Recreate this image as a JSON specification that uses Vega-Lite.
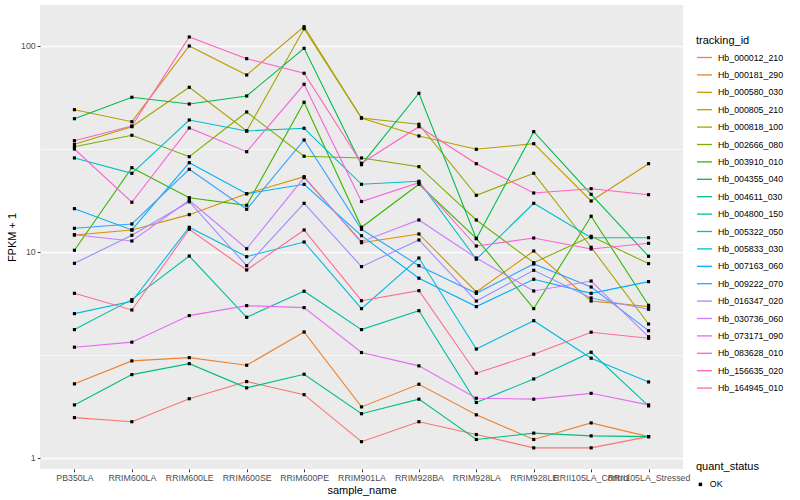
{
"$schema": "https://vega.github.io/schema/vega-lite/v6.json",
"width": 643, "height": 464,
"autosize": {"type": "none"},
"padding": {"left": 40, "top": 5, "right": 117, "bottom": 31},
"background": "white",
"config": {
  "font": "Liberation Sans",
  "view": {"fill": "#EBEBEB", "stroke": null},
  "axis": {"domain": false, "labelFont": "Liberation Sans", "labelFontSize": 8.8, "labelColor": "#4D4D4D", "titleFont": "Liberation Sans", "titleFontSize": 11, "titleFontWeight": "normal", "titleColor": "black", "tickColor": "#333333", "tickSize": 2.75, "tickWidth": 1, "gridColor": "white", "labelPadding": 2},
  "legend": {"titleFont": "Liberation Sans", "labelFont": "Liberation Sans", "titleFontSize": 11, "titleFontWeight": "normal", "titleColor": "black", "labelFontSize": 8.8, "labelColor": "black", "rowPadding": 3.4, "labelOffset": 5, "titlePadding": 3}
},
"datasets": {"d": [
{"tracking_id":"Hb_000012_210","sample_name":"PB350LA","fpkm1":1.57,"quant_status":"OK"},
{"tracking_id":"Hb_000012_210","sample_name":"RRIM600LA","fpkm1":1.50,"quant_status":"OK"},
{"tracking_id":"Hb_000012_210","sample_name":"RRIM600LE","fpkm1":1.94,"quant_status":"OK"},
{"tracking_id":"Hb_000012_210","sample_name":"RRIM600SE","fpkm1":2.35,"quant_status":"OK"},
{"tracking_id":"Hb_000012_210","sample_name":"RRIM600PE","fpkm1":2.03,"quant_status":"OK"},
{"tracking_id":"Hb_000012_210","sample_name":"RRIM901LA","fpkm1":1.20,"quant_status":"OK"},
{"tracking_id":"Hb_000012_210","sample_name":"RRIM928BA","fpkm1":1.50,"quant_status":"OK"},
{"tracking_id":"Hb_000012_210","sample_name":"RRIM928LA","fpkm1":1.30,"quant_status":"OK"},
{"tracking_id":"Hb_000012_210","sample_name":"RRIM928LE","fpkm1":1.12,"quant_status":"OK"},
{"tracking_id":"Hb_000012_210","sample_name":"RRII105LA_Control","fpkm1":1.12,"quant_status":"OK"},
{"tracking_id":"Hb_000012_210","sample_name":"RRII105LA_Stressed","fpkm1":1.27,"quant_status":"OK"},
{"tracking_id":"Hb_000181_290","sample_name":"PB350LA","fpkm1":2.29,"quant_status":"OK"},
{"tracking_id":"Hb_000181_290","sample_name":"RRIM600LA","fpkm1":2.96,"quant_status":"OK"},
{"tracking_id":"Hb_000181_290","sample_name":"RRIM600LE","fpkm1":3.07,"quant_status":"OK"},
{"tracking_id":"Hb_000181_290","sample_name":"RRIM600SE","fpkm1":2.82,"quant_status":"OK"},
{"tracking_id":"Hb_000181_290","sample_name":"RRIM600PE","fpkm1":4.09,"quant_status":"OK"},
{"tracking_id":"Hb_000181_290","sample_name":"RRIM901LA","fpkm1":1.77,"quant_status":"OK"},
{"tracking_id":"Hb_000181_290","sample_name":"RRIM928BA","fpkm1":2.28,"quant_status":"OK"},
{"tracking_id":"Hb_000181_290","sample_name":"RRIM928LA","fpkm1":1.62,"quant_status":"OK"},
{"tracking_id":"Hb_000181_290","sample_name":"RRIM928LE","fpkm1":1.23,"quant_status":"OK"},
{"tracking_id":"Hb_000181_290","sample_name":"RRII105LA_Control","fpkm1":1.48,"quant_status":"OK"},
{"tracking_id":"Hb_000181_290","sample_name":"RRII105LA_Stressed","fpkm1":1.27,"quant_status":"OK"},
{"tracking_id":"Hb_000580_030","sample_name":"PB350LA","fpkm1":12.09,"quant_status":"OK"},
{"tracking_id":"Hb_000580_030","sample_name":"RRIM600LA","fpkm1":12.79,"quant_status":"OK"},
{"tracking_id":"Hb_000580_030","sample_name":"RRIM600LE","fpkm1":15.18,"quant_status":"OK"},
{"tracking_id":"Hb_000580_030","sample_name":"RRIM600SE","fpkm1":19.19,"quant_status":"OK"},
{"tracking_id":"Hb_000580_030","sample_name":"RRIM600PE","fpkm1":23.21,"quant_status":"OK"},
{"tracking_id":"Hb_000580_030","sample_name":"RRIM901LA","fpkm1":11.09,"quant_status":"OK"},
{"tracking_id":"Hb_000580_030","sample_name":"RRIM928BA","fpkm1":12.23,"quant_status":"OK"},
{"tracking_id":"Hb_000580_030","sample_name":"RRIM928LA","fpkm1":6.40,"quant_status":"OK"},
{"tracking_id":"Hb_000580_030","sample_name":"RRIM928LE","fpkm1":10.11,"quant_status":"OK"},
{"tracking_id":"Hb_000580_030","sample_name":"RRII105LA_Control","fpkm1":5.78,"quant_status":"OK"},
{"tracking_id":"Hb_000580_030","sample_name":"RRII105LA_Stressed","fpkm1":5.43,"quant_status":"OK"},
{"tracking_id":"Hb_000805_210","sample_name":"PB350LA","fpkm1":49.07,"quant_status":"OK"},
{"tracking_id":"Hb_000805_210","sample_name":"RRIM600LA","fpkm1":42.91,"quant_status":"OK"},
{"tracking_id":"Hb_000805_210","sample_name":"RRIM600LE","fpkm1":100.0,"quant_status":"OK"},
{"tracking_id":"Hb_000805_210","sample_name":"RRIM600SE","fpkm1":72.3,"quant_status":"OK"},
{"tracking_id":"Hb_000805_210","sample_name":"RRIM600PE","fpkm1":124.1,"quant_status":"OK"},
{"tracking_id":"Hb_000805_210","sample_name":"RRIM901LA","fpkm1":44.72,"quant_status":"OK"},
{"tracking_id":"Hb_000805_210","sample_name":"RRIM928BA","fpkm1":36.57,"quant_status":"OK"},
{"tracking_id":"Hb_000805_210","sample_name":"RRIM928LA","fpkm1":31.51,"quant_status":"OK"},
{"tracking_id":"Hb_000805_210","sample_name":"RRIM928LE","fpkm1":33.55,"quant_status":"OK"},
{"tracking_id":"Hb_000805_210","sample_name":"RRII105LA_Control","fpkm1":17.68,"quant_status":"OK"},
{"tracking_id":"Hb_000805_210","sample_name":"RRII105LA_Stressed","fpkm1":26.83,"quant_status":"OK"},
{"tracking_id":"Hb_000818_100","sample_name":"PB350LA","fpkm1":33.33,"quant_status":"OK"},
{"tracking_id":"Hb_000818_100","sample_name":"RRIM600LA","fpkm1":40.58,"quant_status":"OK"},
{"tracking_id":"Hb_000818_100","sample_name":"RRIM600LE","fpkm1":63.03,"quant_status":"OK"},
{"tracking_id":"Hb_000818_100","sample_name":"RRIM600SE","fpkm1":38.68,"quant_status":"OK"},
{"tracking_id":"Hb_000818_100","sample_name":"RRIM600PE","fpkm1":121.3,"quant_status":"OK"},
{"tracking_id":"Hb_000818_100","sample_name":"RRIM901LA","fpkm1":44.72,"quant_status":"OK"},
{"tracking_id":"Hb_000818_100","sample_name":"RRIM928BA","fpkm1":41.69,"quant_status":"OK"},
{"tracking_id":"Hb_000818_100","sample_name":"RRIM928LA","fpkm1":18.85,"quant_status":"OK"},
{"tracking_id":"Hb_000818_100","sample_name":"RRIM928LE","fpkm1":24.1,"quant_status":"OK"},
{"tracking_id":"Hb_000818_100","sample_name":"RRII105LA_Control","fpkm1":10.54,"quant_status":"OK"},
{"tracking_id":"Hb_000818_100","sample_name":"RRII105LA_Stressed","fpkm1":4.47,"quant_status":"OK"},
{"tracking_id":"Hb_002666_080","sample_name":"PB350LA","fpkm1":32.45,"quant_status":"OK"},
{"tracking_id":"Hb_002666_080","sample_name":"RRIM600LA","fpkm1":36.86,"quant_status":"OK"},
{"tracking_id":"Hb_002666_080","sample_name":"RRIM600LE","fpkm1":29.01,"quant_status":"OK"},
{"tracking_id":"Hb_002666_080","sample_name":"RRIM600SE","fpkm1":47.83,"quant_status":"OK"},
{"tracking_id":"Hb_002666_080","sample_name":"RRIM600PE","fpkm1":29.15,"quant_status":"OK"},
{"tracking_id":"Hb_002666_080","sample_name":"RRIM901LA","fpkm1":28.6,"quant_status":"OK"},
{"tracking_id":"Hb_002666_080","sample_name":"RRIM928BA","fpkm1":25.95,"quant_status":"OK"},
{"tracking_id":"Hb_002666_080","sample_name":"RRIM928LA","fpkm1":14.3,"quant_status":"OK"},
{"tracking_id":"Hb_002666_080","sample_name":"RRIM928LE","fpkm1":8.87,"quant_status":"OK"},
{"tracking_id":"Hb_002666_080","sample_name":"RRII105LA_Control","fpkm1":11.92,"quant_status":"OK"},
{"tracking_id":"Hb_002666_080","sample_name":"RRII105LA_Stressed","fpkm1":8.78,"quant_status":"OK"},
{"tracking_id":"Hb_003910_010","sample_name":"PB350LA","fpkm1":10.19,"quant_status":"OK"},
{"tracking_id":"Hb_003910_010","sample_name":"RRIM600LA","fpkm1":25.66,"quant_status":"OK"},
{"tracking_id":"Hb_003910_010","sample_name":"RRIM600LE","fpkm1":18.35,"quant_status":"OK"},
{"tracking_id":"Hb_003910_010","sample_name":"RRIM600SE","fpkm1":16.85,"quant_status":"OK"},
{"tracking_id":"Hb_003910_010","sample_name":"RRIM600PE","fpkm1":53.3,"quant_status":"OK"},
{"tracking_id":"Hb_003910_010","sample_name":"RRIM901LA","fpkm1":13.18,"quant_status":"OK"},
{"tracking_id":"Hb_003910_010","sample_name":"RRIM928BA","fpkm1":21.31,"quant_status":"OK"},
{"tracking_id":"Hb_003910_010","sample_name":"RRIM928LA","fpkm1":11.65,"quant_status":"OK"},
{"tracking_id":"Hb_003910_010","sample_name":"RRIM928LE","fpkm1":5.31,"quant_status":"OK"},
{"tracking_id":"Hb_003910_010","sample_name":"RRII105LA_Control","fpkm1":14.91,"quant_status":"OK"},
{"tracking_id":"Hb_003910_010","sample_name":"RRII105LA_Stressed","fpkm1":5.51,"quant_status":"OK"},
{"tracking_id":"Hb_004355_040","sample_name":"PB350LA","fpkm1":44.37,"quant_status":"OK"},
{"tracking_id":"Hb_004355_040","sample_name":"RRIM600LA","fpkm1":56.36,"quant_status":"OK"},
{"tracking_id":"Hb_004355_040","sample_name":"RRIM600LE","fpkm1":52.29,"quant_status":"OK"},
{"tracking_id":"Hb_004355_040","sample_name":"RRIM600SE","fpkm1":57.19,"quant_status":"OK"},
{"tracking_id":"Hb_004355_040","sample_name":"RRIM600PE","fpkm1":97.45,"quant_status":"OK"},
{"tracking_id":"Hb_004355_040","sample_name":"RRIM901LA","fpkm1":26.53,"quant_status":"OK"},
{"tracking_id":"Hb_004355_040","sample_name":"RRIM928BA","fpkm1":58.94,"quant_status":"OK"},
{"tracking_id":"Hb_004355_040","sample_name":"RRIM928LA","fpkm1":11.6,"quant_status":"OK"},
{"tracking_id":"Hb_004355_040","sample_name":"RRIM928LE","fpkm1":38.37,"quant_status":"OK"},
{"tracking_id":"Hb_004355_040","sample_name":"RRII105LA_Control","fpkm1":19.06,"quant_status":"OK"},
{"tracking_id":"Hb_004355_040","sample_name":"RRII105LA_Stressed","fpkm1":9.53,"quant_status":"OK"},
{"tracking_id":"Hb_004611_030","sample_name":"PB350LA","fpkm1":1.81,"quant_status":"OK"},
{"tracking_id":"Hb_004611_030","sample_name":"RRIM600LA","fpkm1":2.54,"quant_status":"OK"},
{"tracking_id":"Hb_004611_030","sample_name":"RRIM600LE","fpkm1":2.87,"quant_status":"OK"},
{"tracking_id":"Hb_004611_030","sample_name":"RRIM600SE","fpkm1":2.19,"quant_status":"OK"},
{"tracking_id":"Hb_004611_030","sample_name":"RRIM600PE","fpkm1":2.55,"quant_status":"OK"},
{"tracking_id":"Hb_004611_030","sample_name":"RRIM901LA","fpkm1":1.64,"quant_status":"OK"},
{"tracking_id":"Hb_004611_030","sample_name":"RRIM928BA","fpkm1":1.93,"quant_status":"OK"},
{"tracking_id":"Hb_004611_030","sample_name":"RRIM928LA","fpkm1":1.23,"quant_status":"OK"},
{"tracking_id":"Hb_004611_030","sample_name":"RRIM928LE","fpkm1":1.32,"quant_status":"OK"},
{"tracking_id":"Hb_004611_030","sample_name":"RRII105LA_Control","fpkm1":1.28,"quant_status":"OK"},
{"tracking_id":"Hb_004611_030","sample_name":"RRII105LA_Stressed","fpkm1":1.27,"quant_status":"OK"},
{"tracking_id":"Hb_004800_150","sample_name":"PB350LA","fpkm1":4.20,"quant_status":"OK"},
{"tracking_id":"Hb_004800_150","sample_name":"RRIM600LA","fpkm1":5.87,"quant_status":"OK"},
{"tracking_id":"Hb_004800_150","sample_name":"RRIM600LE","fpkm1":9.56,"quant_status":"OK"},
{"tracking_id":"Hb_004800_150","sample_name":"RRIM600SE","fpkm1":4.82,"quant_status":"OK"},
{"tracking_id":"Hb_004800_150","sample_name":"RRIM600PE","fpkm1":6.45,"quant_status":"OK"},
{"tracking_id":"Hb_004800_150","sample_name":"RRIM901LA","fpkm1":4.20,"quant_status":"OK"},
{"tracking_id":"Hb_004800_150","sample_name":"RRIM928BA","fpkm1":5.19,"quant_status":"OK"},
{"tracking_id":"Hb_004800_150","sample_name":"RRIM928LA","fpkm1":1.86,"quant_status":"OK"},
{"tracking_id":"Hb_004800_150","sample_name":"RRIM928LE","fpkm1":2.42,"quant_status":"OK"},
{"tracking_id":"Hb_004800_150","sample_name":"RRII105LA_Control","fpkm1":3.26,"quant_status":"OK"},
{"tracking_id":"Hb_004800_150","sample_name":"RRII105LA_Stressed","fpkm1":1.79,"quant_status":"OK"},
{"tracking_id":"Hb_005322_050","sample_name":"PB350LA","fpkm1":28.6,"quant_status":"OK"},
{"tracking_id":"Hb_005322_050","sample_name":"RRIM600LA","fpkm1":24.1,"quant_status":"OK"},
{"tracking_id":"Hb_005322_050","sample_name":"RRIM600LE","fpkm1":43.73,"quant_status":"OK"},
{"tracking_id":"Hb_005322_050","sample_name":"RRIM600SE","fpkm1":38.68,"quant_status":"OK"},
{"tracking_id":"Hb_005322_050","sample_name":"RRIM600PE","fpkm1":39.86,"quant_status":"OK"},
{"tracking_id":"Hb_005322_050","sample_name":"RRIM901LA","fpkm1":21.31,"quant_status":"OK"},
{"tracking_id":"Hb_005322_050","sample_name":"RRIM928BA","fpkm1":22.04,"quant_status":"OK"},
{"tracking_id":"Hb_005322_050","sample_name":"RRIM928LA","fpkm1":9.22,"quant_status":"OK"},
{"tracking_id":"Hb_005322_050","sample_name":"RRIM928LE","fpkm1":17.23,"quant_status":"OK"},
{"tracking_id":"Hb_005322_050","sample_name":"RRII105LA_Control","fpkm1":11.73,"quant_status":"OK"},
{"tracking_id":"Hb_005322_050","sample_name":"RRII105LA_Stressed","fpkm1":11.73,"quant_status":"OK"},
{"tracking_id":"Hb_005833_030","sample_name":"PB350LA","fpkm1":5.02,"quant_status":"OK"},
{"tracking_id":"Hb_005833_030","sample_name":"RRIM600LA","fpkm1":5.76,"quant_status":"OK"},
{"tracking_id":"Hb_005833_030","sample_name":"RRIM600LE","fpkm1":13.18,"quant_status":"OK"},
{"tracking_id":"Hb_005833_030","sample_name":"RRIM600SE","fpkm1":9.49,"quant_status":"OK"},
{"tracking_id":"Hb_005833_030","sample_name":"RRIM600PE","fpkm1":11.18,"quant_status":"OK"},
{"tracking_id":"Hb_005833_030","sample_name":"RRIM901LA","fpkm1":5.31,"quant_status":"OK"},
{"tracking_id":"Hb_005833_030","sample_name":"RRIM928BA","fpkm1":9.35,"quant_status":"OK"},
{"tracking_id":"Hb_005833_030","sample_name":"RRIM928LA","fpkm1":3.38,"quant_status":"OK"},
{"tracking_id":"Hb_005833_030","sample_name":"RRIM928LE","fpkm1":4.64,"quant_status":"OK"},
{"tracking_id":"Hb_005833_030","sample_name":"RRII105LA_Control","fpkm1":3.05,"quant_status":"OK"},
{"tracking_id":"Hb_005833_030","sample_name":"RRII105LA_Stressed","fpkm1":2.34,"quant_status":"OK"},
{"tracking_id":"Hb_007163_060","sample_name":"PB350LA","fpkm1":16.23,"quant_status":"OK"},
{"tracking_id":"Hb_007163_060","sample_name":"RRIM600LA","fpkm1":12.79,"quant_status":"OK"},
{"tracking_id":"Hb_007163_060","sample_name":"RRIM600LE","fpkm1":27.13,"quant_status":"OK"},
{"tracking_id":"Hb_007163_060","sample_name":"RRIM600SE","fpkm1":19.19,"quant_status":"OK"},
{"tracking_id":"Hb_007163_060","sample_name":"RRIM600PE","fpkm1":21.31,"quant_status":"OK"},
{"tracking_id":"Hb_007163_060","sample_name":"RRIM901LA","fpkm1":12.0,"quant_status":"OK"},
{"tracking_id":"Hb_007163_060","sample_name":"RRIM928BA","fpkm1":7.46,"quant_status":"OK"},
{"tracking_id":"Hb_007163_060","sample_name":"RRIM928LA","fpkm1":5.43,"quant_status":"OK"},
{"tracking_id":"Hb_007163_060","sample_name":"RRIM928LE","fpkm1":7.37,"quant_status":"OK"},
{"tracking_id":"Hb_007163_060","sample_name":"RRII105LA_Control","fpkm1":6.30,"quant_status":"OK"},
{"tracking_id":"Hb_007163_060","sample_name":"RRII105LA_Stressed","fpkm1":7.18,"quant_status":"OK"},
{"tracking_id":"Hb_009222_070","sample_name":"PB350LA","fpkm1":13.03,"quant_status":"OK"},
{"tracking_id":"Hb_009222_070","sample_name":"RRIM600LA","fpkm1":13.68,"quant_status":"OK"},
{"tracking_id":"Hb_009222_070","sample_name":"RRIM600LE","fpkm1":25.2,"quant_status":"OK"},
{"tracking_id":"Hb_009222_070","sample_name":"RRIM600SE","fpkm1":16.12,"quant_status":"OK"},
{"tracking_id":"Hb_009222_070","sample_name":"RRIM600PE","fpkm1":34.97,"quant_status":"OK"},
{"tracking_id":"Hb_009222_070","sample_name":"RRIM901LA","fpkm1":12.89,"quant_status":"OK"},
{"tracking_id":"Hb_009222_070","sample_name":"RRIM928BA","fpkm1":8.58,"quant_status":"OK"},
{"tracking_id":"Hb_009222_070","sample_name":"RRIM928LA","fpkm1":6.30,"quant_status":"OK"},
{"tracking_id":"Hb_009222_070","sample_name":"RRIM928LE","fpkm1":8.75,"quant_status":"OK"},
{"tracking_id":"Hb_009222_070","sample_name":"RRII105LA_Control","fpkm1":6.76,"quant_status":"OK"},
{"tracking_id":"Hb_009222_070","sample_name":"RRII105LA_Stressed","fpkm1":4.15,"quant_status":"OK"},
{"tracking_id":"Hb_016347_020","sample_name":"PB350LA","fpkm1":8.81,"quant_status":"OK"},
{"tracking_id":"Hb_016347_020","sample_name":"RRIM600LA","fpkm1":12.05,"quant_status":"OK"},
{"tracking_id":"Hb_016347_020","sample_name":"RRIM600LE","fpkm1":17.54,"quant_status":"OK"},
{"tracking_id":"Hb_016347_020","sample_name":"RRIM600SE","fpkm1":8.58,"quant_status":"OK"},
{"tracking_id":"Hb_016347_020","sample_name":"RRIM600PE","fpkm1":17.23,"quant_status":"OK"},
{"tracking_id":"Hb_016347_020","sample_name":"RRIM901LA","fpkm1":8.49,"quant_status":"OK"},
{"tracking_id":"Hb_016347_020","sample_name":"RRIM928BA","fpkm1":11.44,"quant_status":"OK"},
{"tracking_id":"Hb_016347_020","sample_name":"RRIM928LA","fpkm1":5.78,"quant_status":"OK"},
{"tracking_id":"Hb_016347_020","sample_name":"RRIM928LE","fpkm1":8.15,"quant_status":"OK"},
{"tracking_id":"Hb_016347_020","sample_name":"RRII105LA_Control","fpkm1":5.98,"quant_status":"OK"},
{"tracking_id":"Hb_016347_020","sample_name":"RRII105LA_Stressed","fpkm1":5.27,"quant_status":"OK"},
{"tracking_id":"Hb_030736_060","sample_name":"PB350LA","fpkm1":12.13,"quant_status":"OK"},
{"tracking_id":"Hb_030736_060","sample_name":"RRIM600LA","fpkm1":11.31,"quant_status":"OK"},
{"tracking_id":"Hb_030736_060","sample_name":"RRIM600LE","fpkm1":17.82,"quant_status":"OK"},
{"tracking_id":"Hb_030736_060","sample_name":"RRIM600SE","fpkm1":10.37,"quant_status":"OK"},
{"tracking_id":"Hb_030736_060","sample_name":"RRIM600PE","fpkm1":22.95,"quant_status":"OK"},
{"tracking_id":"Hb_030736_060","sample_name":"RRIM901LA","fpkm1":11.22,"quant_status":"OK"},
{"tracking_id":"Hb_030736_060","sample_name":"RRIM928BA","fpkm1":14.3,"quant_status":"OK"},
{"tracking_id":"Hb_030736_060","sample_name":"RRIM928LA","fpkm1":9.35,"quant_status":"OK"},
{"tracking_id":"Hb_030736_060","sample_name":"RRIM928LE","fpkm1":6.47,"quant_status":"OK"},
{"tracking_id":"Hb_030736_060","sample_name":"RRII105LA_Control","fpkm1":7.23,"quant_status":"OK"},
{"tracking_id":"Hb_030736_060","sample_name":"RRII105LA_Stressed","fpkm1":3.88,"quant_status":"OK"},
{"tracking_id":"Hb_073171_090","sample_name":"PB350LA","fpkm1":3.45,"quant_status":"OK"},
{"tracking_id":"Hb_073171_090","sample_name":"RRIM600LA","fpkm1":3.65,"quant_status":"OK"},
{"tracking_id":"Hb_073171_090","sample_name":"RRIM600LE","fpkm1":4.91,"quant_status":"OK"},
{"tracking_id":"Hb_073171_090","sample_name":"RRIM600SE","fpkm1":5.49,"quant_status":"OK"},
{"tracking_id":"Hb_073171_090","sample_name":"RRIM600PE","fpkm1":5.37,"quant_status":"OK"},
{"tracking_id":"Hb_073171_090","sample_name":"RRIM901LA","fpkm1":3.25,"quant_status":"OK"},
{"tracking_id":"Hb_073171_090","sample_name":"RRIM928BA","fpkm1":2.80,"quant_status":"OK"},
{"tracking_id":"Hb_073171_090","sample_name":"RRIM928LA","fpkm1":1.95,"quant_status":"OK"},
{"tracking_id":"Hb_073171_090","sample_name":"RRIM928LE","fpkm1":1.93,"quant_status":"OK"},
{"tracking_id":"Hb_073171_090","sample_name":"RRII105LA_Control","fpkm1":2.06,"quant_status":"OK"},
{"tracking_id":"Hb_073171_090","sample_name":"RRII105LA_Stressed","fpkm1":1.81,"quant_status":"OK"},
{"tracking_id":"Hb_083628_010","sample_name":"PB350LA","fpkm1":31.62,"quant_status":"OK"},
{"tracking_id":"Hb_083628_010","sample_name":"RRIM600LA","fpkm1":17.43,"quant_status":"OK"},
{"tracking_id":"Hb_083628_010","sample_name":"RRIM600LE","fpkm1":39.99,"quant_status":"OK"},
{"tracking_id":"Hb_083628_010","sample_name":"RRIM600SE","fpkm1":30.68,"quant_status":"OK"},
{"tracking_id":"Hb_083628_010","sample_name":"RRIM600PE","fpkm1":65.17,"quant_status":"OK"},
{"tracking_id":"Hb_083628_010","sample_name":"RRIM901LA","fpkm1":17.59,"quant_status":"OK"},
{"tracking_id":"Hb_083628_010","sample_name":"RRIM928BA","fpkm1":21.7,"quant_status":"OK"},
{"tracking_id":"Hb_083628_010","sample_name":"RRIM928LA","fpkm1":10.69,"quant_status":"OK"},
{"tracking_id":"Hb_083628_010","sample_name":"RRIM928LE","fpkm1":11.69,"quant_status":"OK"},
{"tracking_id":"Hb_083628_010","sample_name":"RRII105LA_Control","fpkm1":10.34,"quant_status":"OK"},
{"tracking_id":"Hb_083628_010","sample_name":"RRII105LA_Stressed","fpkm1":11.02,"quant_status":"OK"},
{"tracking_id":"Hb_156635_020","sample_name":"PB350LA","fpkm1":34.7,"quant_status":"OK"},
{"tracking_id":"Hb_156635_020","sample_name":"RRIM600LA","fpkm1":40.9,"quant_status":"OK"},
{"tracking_id":"Hb_156635_020","sample_name":"RRIM600LE","fpkm1":110.6,"quant_status":"OK"},
{"tracking_id":"Hb_156635_020","sample_name":"RRIM600SE","fpkm1":86.78,"quant_status":"OK"},
{"tracking_id":"Hb_156635_020","sample_name":"RRIM600PE","fpkm1":73.71,"quant_status":"OK"},
{"tracking_id":"Hb_156635_020","sample_name":"RRIM901LA","fpkm1":26.95,"quant_status":"OK"},
{"tracking_id":"Hb_156635_020","sample_name":"RRIM928BA","fpkm1":40.58,"quant_status":"OK"},
{"tracking_id":"Hb_156635_020","sample_name":"RRIM928LA","fpkm1":26.83,"quant_status":"OK"},
{"tracking_id":"Hb_156635_020","sample_name":"RRIM928LE","fpkm1":19.34,"quant_status":"OK"},
{"tracking_id":"Hb_156635_020","sample_name":"RRII105LA_Control","fpkm1":20.29,"quant_status":"OK"},
{"tracking_id":"Hb_156635_020","sample_name":"RRII105LA_Stressed","fpkm1":18.97,"quant_status":"OK"},
{"tracking_id":"Hb_164945_010","sample_name":"PB350LA","fpkm1":6.30,"quant_status":"OK"},
{"tracking_id":"Hb_164945_010","sample_name":"RRIM600LA","fpkm1":5.23,"quant_status":"OK"},
{"tracking_id":"Hb_164945_010","sample_name":"RRIM600LE","fpkm1":12.89,"quant_status":"OK"},
{"tracking_id":"Hb_164945_010","sample_name":"RRIM600SE","fpkm1":8.18,"quant_status":"OK"},
{"tracking_id":"Hb_164945_010","sample_name":"RRIM600PE","fpkm1":12.79,"quant_status":"OK"},
{"tracking_id":"Hb_164945_010","sample_name":"RRIM901LA","fpkm1":5.80,"quant_status":"OK"},
{"tracking_id":"Hb_164945_010","sample_name":"RRIM928BA","fpkm1":6.49,"quant_status":"OK"},
{"tracking_id":"Hb_164945_010","sample_name":"RRIM928LA","fpkm1":2.58,"quant_status":"OK"},
{"tracking_id":"Hb_164945_010","sample_name":"RRIM928LE","fpkm1":3.19,"quant_status":"OK"},
{"tracking_id":"Hb_164945_010","sample_name":"RRII105LA_Control","fpkm1":4.08,"quant_status":"OK"},
{"tracking_id":"Hb_164945_010","sample_name":"RRII105LA_Stressed","fpkm1":3.81,"quant_status":"OK"}
]},
"data": {"name": "d"},
"encoding": {
  "x": {"field": "sample_name", "type": "nominal",
        "scale": {"type": "point", "padding": 0.6, "domain": ["PB350LA","RRIM600LA","RRIM600LE","RRIM600SE","RRIM600PE","RRIM901LA","RRIM928BA","RRIM928LA","RRIM928LE","RRII105LA_Control","RRII105LA_Stressed"]},
        "axis": {"labelAngle": 0, "labelOverlap": false, "labelBound": false, "gridWidth": 1.3, "titlePadding": 2},
        "title": "sample_name"},
  "y": {"field": "fpkm1", "type": "quantitative",
        "scale": {"type": "log", "domain": [0.8842, 158.1], "nice": false, "zero": false},
        "axis": {"values": [1, 3.16228, 10, 31.6228, 100],
                 "labelExpr": "datum.value == 1 ? '1' : datum.value == 10 ? '10' : datum.value == 100 ? '100' : ''",
                 "gridWidth": {"condition": {"test": "datum.value == 1 || datum.value == 10 || datum.value == 100", "value": 1.3}, "value": 0.6},
                 "tickOpacity": {"condition": {"test": "datum.value == 1 || datum.value == 10 || datum.value == 100", "value": 1}, "value": 0},
                 "titlePadding": 3},
        "title": "FPKM + 1"}
},
"layer": [
  {"mark": {"type": "line", "strokeWidth": 1.1},
   "encoding": {
     "order": {"value": null},
     "color": {"field": "tracking_id", "type": "nominal",
       "scale": {"domain": ["Hb_000012_210","Hb_000181_290","Hb_000580_030","Hb_000805_210","Hb_000818_100","Hb_002666_080","Hb_003910_010","Hb_004355_040","Hb_004611_030","Hb_004800_150","Hb_005322_050","Hb_005833_030","Hb_007163_060","Hb_009222_070","Hb_016347_020","Hb_030736_060","Hb_073171_090","Hb_083628_010","Hb_156635_020","Hb_164945_010"],
                 "range": ["#F8766D","#EA8331","#D89000","#C09B00","#A3A500","#7CAE00","#39B600","#00BB4E","#00BF7D","#00C1A3","#00BFC4","#00BAE0","#00B0F6","#35A2FF","#9590FF","#C77CFF","#E76BF3","#FA62DB","#FF62BC","#FF6C91"]},
       "legend": {"title": "tracking_id", "orient": "none", "legendX": 656, "legendY": 30, "symbolType": "stroke", "symbolSize": 225, "symbolStrokeWidth": 1.3}}
   }},
  {"mark": {"type": "point", "filled": true, "color": "black", "opacity": 1, "size": 10},
   "encoding": {
     "shape": {"field": "quant_status", "type": "nominal", "scale": {"range": ["square"]},
       "legend": {"title": "quant_status", "orient": "none", "legendX": 656, "legendY": 456, "titlePadding": 8, "symbolSize": 12, "symbolFillColor": "black", "symbolStrokeColor": "black"}}
   }}
]
}
